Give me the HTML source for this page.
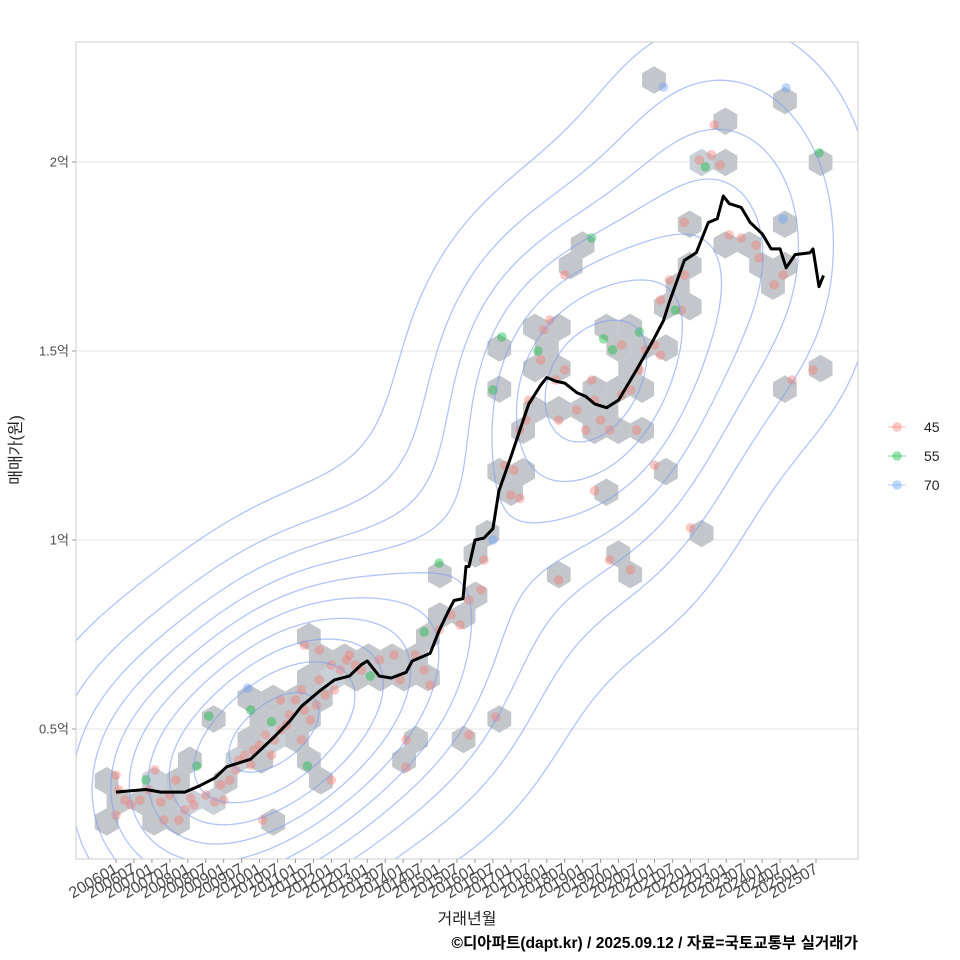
<!DOCTYPE html>
<html><head><meta charset="utf-8">
<style>
body{margin:0;background:#fff;}
svg{display:block;font-family:"Liberation Sans","Noto Sans CJK KR",sans-serif;}
</style></head>
<body>
<svg id="chart" width="960" height="960"></svg>
<script>
// ---- data ----
const lineMonths=[0,10,15,23,28,33,37,41,45,49,53,58,62,65,68,73,78,82,84,88,92,97,99,105,108,111,113,116,117,118,120,123,126,128,132,135,138,142,144,147,150,154,157,160,164,168,171,174,179,183,185,190,194,198,201,203,205,209,212,216,219,222,224,227,232,233,235,236.5];
const lineValues=[0.333,0.34,0.333,0.333,0.35,0.37,0.40,0.41,0.42,0.45,0.48,0.52,0.56,0.58,0.60,0.63,0.64,0.67,0.68,0.64,0.635,0.65,0.68,0.70,0.76,0.81,0.84,0.845,0.93,0.93,1.0,1.005,1.03,1.13,1.22,1.29,1.36,1.41,1.43,1.42,1.415,1.39,1.38,1.36,1.35,1.37,1.41,1.45,1.52,1.58,1.63,1.74,1.76,1.84,1.85,1.91,1.89,1.88,1.84,1.81,1.77,1.77,1.72,1.755,1.76,1.77,1.67,1.70];
const ptMonths=[0,1,3,0,5,8,11,13,15,16,18,20,21,23,25,26,30,33,35,36,38,40,41,43,45,46,48,49,50,52,53,55,57,58,60,62,62,63,65,67,68,70,72,72,73,75,77,78,80,82,63,68,55,
10,31,27,45,52,64,85,103,44,
88,93,95,97,97,100,103,105,108,112,115,118,122,123,127,118,130,132,133,135,137,138,142,143,147,148,150,154,157,159,160,162,165,169,172,174,175,177,180,182,185,189,190,148,165,172,180,192,195,199,202,200,205,209,214,215,220,223,190,150,145,169,182,226,233,160,135,
126,129,141,159,163,166,175,108,197,187,235,183,224,223,126];
const ptValues=[0.378,0.339,0.312,0.272,0.299,0.312,0.339,0.392,0.307,0.259,0.325,0.365,0.259,0.286,0.317,0.299,0.325,0.307,0.352,0.312,0.365,0.392,0.418,0.431,0.405,0.444,0.458,0.259,0.484,0.431,0.471,0.497,0.511,0.537,0.577,0.603,0.471,0.550,0.524,0.563,0.630,0.590,0.669,0.365,0.603,0.656,0.683,0.696,0.669,0.656,0.722,0.709,0.577,
0.365,0.534,0.402,0.550,0.519,0.402,0.640,0.757,0.608,
0.683,0.696,0.630,0.471,0.399,0.696,0.656,0.616,0.762,0.802,0.775,0.841,0.868,0.947,0.532,0.484,1.198,1.119,1.185,1.291,1.317,1.370,1.476,1.556,1.423,1.317,1.450,1.344,1.291,1.423,1.370,1.317,1.291,1.384,1.397,1.291,1.450,1.503,1.516,1.635,1.688,1.608,1.701,0.894,0.947,0.921,1.198,1.032,2.005,2.019,1.992,2.098,1.807,1.799,1.780,1.746,1.675,1.701,1.84,1.701,1.582,1.516,1.489,1.423,1.45,1.13,1.11,
1.397,1.537,1.500,1.799,1.532,1.503,1.550,0.939,1.987,1.608,2.024,2.198,2.196,1.849,1.0];
const ptTypes=[];
for(let i=0;i<ptMonths.length;i++)ptTypes.push(45);
const greenIdx=[53,54,55,56,57,58,59,60,129,130,131,132,133,134,135,136,137,138,139];
const blueIdx=[61,140,141,142,143];
const typeLabels=["45","55","70"];
const yTicks=[0.5,1,1.5,2];
const yTickLabels=["0.5억","1억","1.5억","2억"];
// ---- scales ----
const PL=76,PR=858,PT=42,PB=859;
const xs=m=>116+m*(700/234);
const ys=v=>918-v*378;
const NS="http://www.w3.org/2000/svg";
const svg=document.getElementById('chart');
function mk(t,a,p){const e=document.createElementNS(NS,t);for(const k in a)e.setAttribute(k,a[k]);(p||svg).appendChild(e);return e;}
greenIdx.forEach(i=>ptTypes[i]=55);blueIdx.forEach(i=>ptTypes[i]=70);
const colors={45:"#F8766D",55:"#00BA38",70:"#619CFF"};
const defs=mk('defs',{});const cp=mk('clipPath',{id:'pc'},defs);mk('rect',{x:PL,y:PT,width:PR-PL,height:PB-PT},cp);
const panel=mk('rect',{x:PL,y:PT,width:PR-PL,height:PB-PT,fill:'#fff',stroke:'none'});


yTicks.forEach((t,i)=>{
 const g=mk('line',{x1:PL,x2:PR,y1:ys(t),y2:ys(t),stroke:'#e3e3e3','stroke-width':1});
 
 
 const tk=mk('line',{x1:PL-4,x2:PL,y1:ys(t),y2:ys(t),stroke:'#999'});
 
 
 const tx=mk('text',{x:PL-7,y:ys(t)+4.5,'text-anchor':'end','font-size':13,fill:'#4d4d4d'});
 tx.textContent=yTickLabels[i];
 
 
});
const plotG=mk('g',{'clip-path':'url(#pc)'});


// hexbin
const HW=23.8,HR=HW/Math.sqrt(3),HH=HR*1.5,HX0=11.4,HY0=80;
const bins={};
for(let i=0;i<ptMonths.length;i++){
 const px=xs(ptMonths[i]),py=ys(ptValues[i]);
 let best=null,bd=1e9;
 const r0=Math.round((py-HY0)/HH);
 for(let r=r0-1;r<=r0+1;r++){
  const off=(((r%2)+2)%2)?HW/2:0;
  const c0=Math.round((px-HX0-off)/HW);
  for(let c=c0-1;c<=c0+1;c++){
   const cx=HX0+off+c*HW,cy=HY0+r*HH;const d=(cx-px)**2+(cy-py)**2;
   if(d<bd){bd=d;best=[cx,cy,r+','+c];}
  }
 }
 if(!bins[best[2]])bins[best[2]]={x:best[0],y:best[1],n:0};
 bins[best[2]].n++;
}
Object.values(bins).forEach(b=>{
 let pts=[];for(let k=0;k<6;k++){const a=Math.PI/180*(60*k-90);pts.push((b.x+HR*Math.cos(a)).toFixed(1)+','+(b.y+HR*Math.sin(a)).toFixed(1));}
 const f=b.n>=4?'#d3dde8':(b.n>=3?'#c9d0d8':'#c3c6ca');
 const h=mk('polygon',{points:pts.join(' '),fill:f},plotG);
 
 
});
for(let i=0;i<ptMonths.length;i++){
 const c=mk('circle',{cx:xs(ptMonths[i]),cy:ys(ptValues[i]),r:4.8,fill:colors[ptTypes[i]],'fill-opacity':0.4},plotG);
 
 
}
// KDE contours
(function(){
 const step=6,gx0=PL,gy0=PT,nx=Math.ceil((PR-PL)/step)+1,ny=Math.ceil((PB-PT)/step)+1;
 const hx=75,hy=95;const G=[];let mx=0;
 const P=ptMonths.map((m,i)=>[xs(m),ys(ptValues[i])]);
 for(let j=0;j<ny;j++){G.push([]);for(let i=0;i<nx;i++){const x=gx0+i*step,y=gy0+j*step;let s=0;
  for(const p of P){const dx=(x-p[0])/hx,dy=(y-p[1])/hy;s+=Math.exp(-0.5*(dx*dx+dy*dy));}
  G[j].push(s);if(s>mx)mx=s;}}
 let d='';
 for(let k=1;k<=10;k++){
  const L=mx*k/10.5;
  for(let j=0;j<ny-1;j++)for(let i=0;i<nx-1;i++){
   const a=G[j][i],b=G[j][i+1],c=G[j+1][i+1],e=G[j+1][i];
   const x=gx0+i*step,y=gy0+j*step;
   const pts=[];
   const it=(v1,v2)=>(L-v1)/(v2-v1);
   if((a<L)!=(b<L))pts.push([x+step*it(a,b),y]);
   if((b<L)!=(c<L))pts.push([x+step,y+step*it(b,c)]);
   if((e<L)!=(c<L))pts.push([x+step*it(e,c),y+step]);
   if((a<L)!=(e<L))pts.push([x,y+step*it(a,e)]);
   if(pts.length>=2)d+='M'+pts[0][0].toFixed(1)+' '+pts[0][1].toFixed(1)+'L'+pts[1][0].toFixed(1)+' '+pts[1][1].toFixed(1);
   if(pts.length==4)d+='M'+pts[2][0].toFixed(1)+' '+pts[2][1].toFixed(1)+'L'+pts[3][0].toFixed(1)+' '+pts[3][1].toFixed(1);
  }
 }
 const cpath=mk('path',{d:d,fill:'none',stroke:'#7f9cf0','stroke-opacity':0.6,'stroke-width':1.3},plotG);
 
 
})();
const lp=mk('polyline',{points:lineMonths.map((m,i)=>xs(m).toFixed(1)+','+ys(lineValues[i]).toFixed(1)).join(' '),fill:'none',stroke:'#000','stroke-width':3,'stroke-linejoin':'round'},plotG);


const bd=mk('rect',{x:PL,y:PT,width:PR-PL,height:PB-PT,fill:'none',stroke:'#cccccc'});


for(let k=0;k<40;k++){
 const m=k*6,yr=2006+Math.floor(m/12),mo=(m%12)+1;
 const lab=yr+(mo<10?'0':'')+mo;const x=xs(m);
 const tk=mk('line',{x1:x,x2:x,y1:PB,y2:PB+4,stroke:'#999'});
 
 
 const t=mk('text',{x:x+3,y:PB+13,'text-anchor':'end','font-size':16,fill:'#4d4d4d',transform:'rotate(-30 '+(x+3)+' '+(PB+13)+')'});
 t.textContent=lab;
 
 
}
typeLabels.forEach((l,i)=>{
 const y=427+i*29;
 const ln=mk('line',{x1:888,x2:906,y1:y,y2:y,stroke:colors[l],'stroke-opacity':0.4,'stroke-width':1.2});
 
 
 const c=mk('circle',{cx:897,cy:y,r:4.8,fill:colors[l],'fill-opacity':0.4});
 
 
 const t=mk('text',{x:924,y:y+5,'font-size':14,fill:'#222'});t.textContent=l;
 
 
});
const xt=mk('text',{x:467,y:924,'text-anchor':'middle','font-size':16,fill:'#222'});xt.textContent='거래년월';


const yt=mk('text',{x:21,y:450,'text-anchor':'middle','font-size':16,fill:'#222',transform:'rotate(-90 21 450)'});yt.textContent='매매가(원)';


const cap=mk('text',{x:858,y:948,'text-anchor':'end','font-size':15.6,'font-weight':'bold',fill:'#000'});cap.textContent='©디아파트(dapt.kr) / 2025.09.12 / 자료=국토교통부 실거래가';


</script>
</body></html>
